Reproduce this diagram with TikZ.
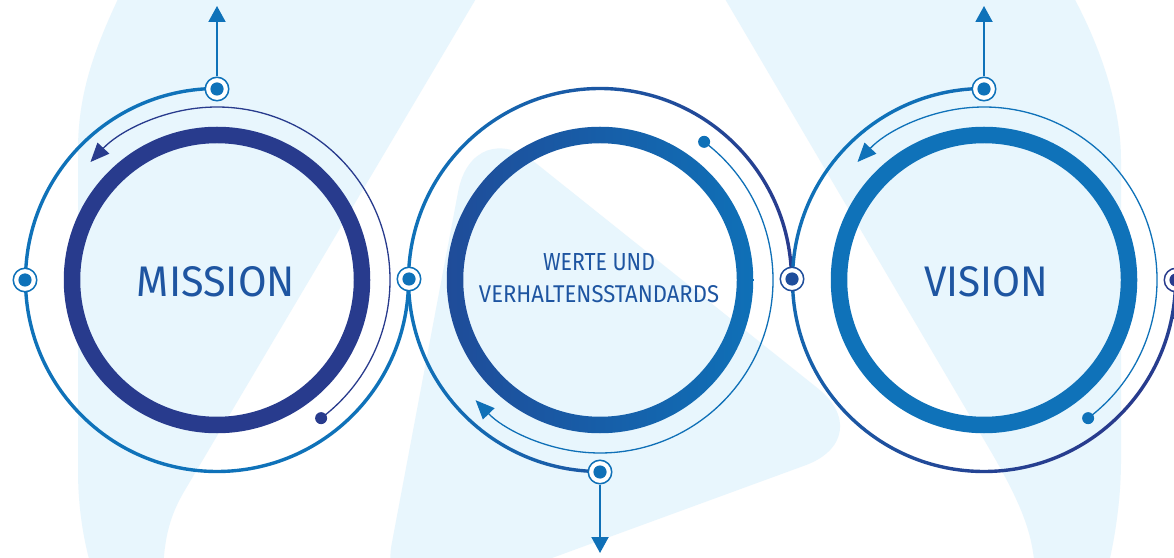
\documentclass[tikz,border=0pt]{standalone}
\usepackage{fontspec}
\setmainfont{Fira Sans}
\usepackage{graphicx}
\usetikzlibrary{arrows.meta}
\definecolor{bgc}{HTML}{E8F6FD}
\definecolor{navyC}{HTML}{283B8D}
\definecolor{blueC}{HTML}{0F72B9}
\definecolor{midC}{HTML}{1F4E9B}
\definecolor{ringL}{HTML}{1F4C99}
\definecolor{ringR}{HTML}{0F70B7}
\definecolor{txtC}{HTML}{1E55A1}
\begin{document}
\begin{tikzpicture}[x=1pt,y=1pt,
  port/.style={circle, draw=#1, fill=white, line width=1.5pt, minimum size=23.5pt, inner sep=0pt,
    path picture={\fill[#1] (path picture bounding box.center) circle[radius=6.6pt];}},
  dotn/.style={circle, fill=#1, minimum size=12pt, inner sep=0pt},
  arrowline/.style={draw=#1, line width=2pt, -{Triangle[length=16pt,width=17pt]}},
  thinarc/.style={draw=#1, line width=1.3pt, -{Triangle[length=19pt,width=16pt]}},
  outerarc/.style={draw=#1, line width=3.4pt},
  txt/.style={text=txtC, inner sep=0pt, anchor=base}]
\clip (0,0) rectangle (1174,557);
\fill[white] (0,0) rectangle (1174,557);
% background logo
\fill[bgc] (493,587) -- (185,67) .. controls (172,45) and (163,22) .. (163,-23) -- (95,-23)
  .. controls (84,12) and (78,47) .. (78,87) -- (78,407) .. controls (78,472) and (100,522) .. (132,587) -- cycle;
\fill[bgc] (708,587) -- (990,107) .. controls (1025,47) and (1035,17) .. (1035,-23) -- (1105,-23)
  .. controls (1115,17) and (1121,57) .. (1121,97) -- (1121,397) .. controls (1121,457) and (1095,527) .. (1058,587) -- cycle;
\fill[bgc, rounded corners=80pt] (425,190) -- (473,444) -- (880,119) -- (377,-65) -- cycle;
% centres
\coordinate (c1) at (217,277);
\coordinate (c2) at (600,277);
\coordinate (c3) at (984,277);
% thick rings
\draw[navyC, line width=16.5pt] (c1) circle[radius=145pt];
\shade[even odd rule, left color=ringL, right color=ringR] (c2) circle[radius=153.25pt] (c2) circle[radius=136.75pt];
\draw[blueC, line width=16.5pt] (c3) circle[radius=145pt];
% texts
\node[txt] (mission) at (216,260) {\resizebox{158pt}{30pt}{MISSION}};
\node[txt] (werte) at (599,286) {\resizebox{112pt}{17pt}{WERTE UND}};
\node[txt] (verh) at (599,254) {\resizebox{240pt}{17pt}{VERHALTENSSTANDARDS}};
\node[txt] (vision) at (986,260) {\resizebox{124pt}{30pt}{VISION}};
% thin arcs with dots
\node[dotn=navyC] (d1) at ([shift={(-53:173pt)}]c1) {};
\draw[thinarc=navyC] (d1.center) arc[start angle=-53, end angle=137, radius=173pt];
\node[dotn=ringR] (d2) at ([shift={(53:173pt)}]c2) {};
\draw[thinarc=ringR] (d2.center) arc[start angle=53, end angle=-136, radius=173pt];
\node[dotn=blueC] (d3) at ([shift={(-53:173pt)}]c3) {};
\draw[thinarc=blueC] (d3.center) arc[start angle=-53, end angle=137, radius=173pt];
% outer arcs
\draw[outerarc=blueC] ([shift={(90:191.5pt)}]c1) arc[start angle=90, end angle=360, radius=191.5pt];
\shade[left color=blueC, right color=navyC]
  ([shift={(0:193.2pt)}]c2) arc[start angle=0, end angle=270, radius=193.2pt]
  -- ([shift={(270:189.8pt)}]c2) arc[start angle=270, end angle=0, radius=189.8pt] -- cycle;
\shade[top color=blueC, bottom color=navyC, shading angle=45]
  ([shift={(90:193.2pt)}]c3) arc[start angle=90, end angle=360, radius=193.2pt]
  -- ([shift={(0:189.8pt)}]c3) arc[start angle=360, end angle=90, radius=189.8pt] -- cycle;
% ports
\node[port=blueC] (p1t) at (217,468) {};
\node[port=blueC] (p1l) at (25,277) {};
\node[port=blueC] (p12) at (409,278) {};
\node[port=ringR] (p2b) at (600,85) {};
\node[port=midC] (p23) at (792,278) {};
\node[port=blueC] (p3t) at (984,468) {};
\node[port=navyC] (p3r) at (1176,277) {};
% arrows
\coordinate (a1) at (217,551);
\coordinate (a2) at (600,4);
\coordinate (a3) at (984,551);
\draw[arrowline=blueC] (p1t) -- (a1);
\draw[arrowline=ringR] (p2b) -- (a2);
\draw[arrowline=blueC] (p3t) -- (a3);
\end{tikzpicture}
\end{document}
